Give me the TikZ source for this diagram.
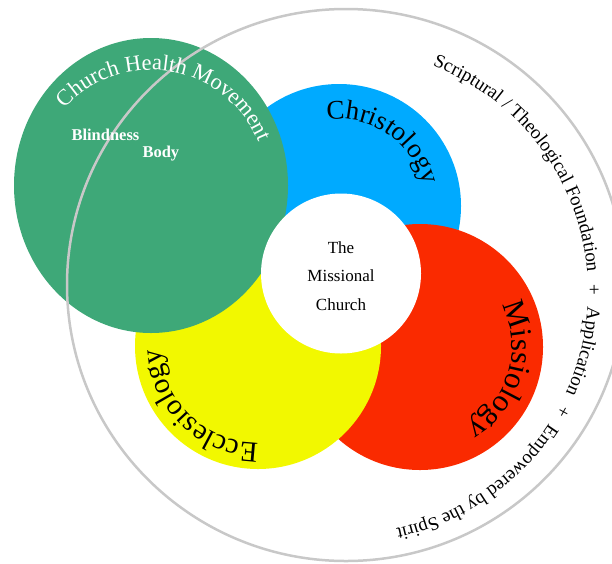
\documentclass[tikz,border=0pt]{standalone}
\usepackage{fontspec}
\setmainfont{Liberation Serif}
\usetikzlibrary{decorations.text}
\definecolor{cgreen}{RGB}{62,168,120}
\definecolor{cblue}{RGB}{0,170,255}
\definecolor{cred}{RGB}{250,42,0}
\definecolor{cyellow}{RGB}{242,248,0}
\definecolor{cgray}{RGB}{200,200,200}
\begin{document}
\begin{tikzpicture}[x=1pt,y=1pt,
  arctext/.style={decorate, decoration={text along path, text align=center, #1}},
  midtext/.style={anchor=base, font=\fontsize{17pt}{17pt}\selectfont},
  smalltext/.style={anchor=base west, text=white, font=\bfseries\fontsize{16.5pt}{16.5pt}\selectfont}
]
\useasboundingbox (0,0) rectangle (612,-563);
% coloured discs
\fill[cblue] (339,-206) circle[radius=122pt];
\fill[cred] (420,-347) circle[radius=123pt];
\fill[cyellow] (258,-346) circle[radius=123pt];
\fill[cgreen] (151,-185.5) ellipse[x radius=137pt, y radius=147.5pt];
\fill[white] (341,-273.5) circle[radius=80pt];
% outer ring
\draw[cgray, line width=2.5pt] (346,-285) ellipse[x radius=279pt, y radius=276pt];
% curved labels
\path[arctext={text color=white, text={|\fontsize{22.5pt}{22.5pt}\selectfont|Church Health Movement}}]
  (151,-186) ++(160:116pt) arc[start angle=160, end angle=0, radius=116pt];
\path[arctext={text={|\fontsize{27pt}{27pt}\selectfont|Christology}}]
  (339,-206) ++(151:87pt) arc[start angle=151, end angle=-39, radius=87pt];
\path[arctext={text={|\fontsize{31pt}{31pt}\selectfont|Missiology}}]
  (420,-347) ++(74:92pt) arc[start angle=74, end angle=-106, radius=92pt];
\path[arctext={text={|\fontsize{29pt}{29pt}\selectfont|Ecclesiology}}]
  (258,-346) ++(-44:97pt) arc[start angle=-44, end angle=-224, radius=97pt];
\path[arctext={text={|\fontsize{19pt}{19pt}\selectfont|Scriptural / Theological Foundation{\kern12pt}+{\kern12pt}Application{\kern12pt}+{\kern12pt}Empowered by the Spirit}}]
  (346,-292) ++(85.5:242pt) arc[start angle=85.5, end angle=-94.5, radius=242pt];
% small labels
\node[smalltext] (blind) at (68,-140) {Blindness};
\node[smalltext] (body) at (139,-157) {Body};
% centre text
\node[midtext] (the) at (341,-253) {The};
\node[midtext] (missional) at (341,-281.5) {Missional};
\node[midtext] (church) at (341,-310) {Church};
\end{tikzpicture}
\end{document}
